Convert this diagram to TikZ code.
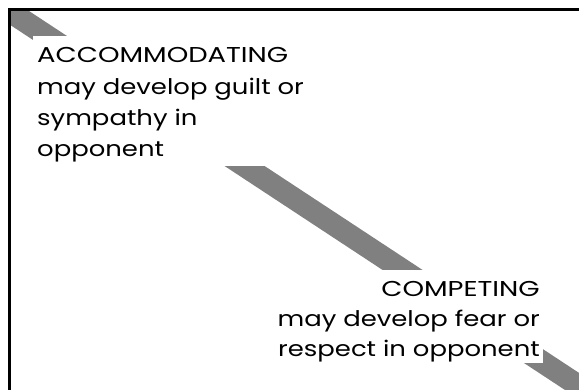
\documentclass[tikz,border=0pt]{standalone}
\usepackage{fontspec}
\setmainfont[FakeStretch=1.205]{Poppins}
\newfontfamily\capsfont[FakeStretch=1.275]{Poppins}
\begin{document}
\begin{tikzpicture}[x=1pt,y=-1pt,
  band/.style={fill=black!50},
  frameline/.style={draw=black,line width=3pt},
  whitebox/.style={fill=white},
  txt/.style={inner sep=0pt,font=\fontsize{21.5}{30}\selectfont},
  captxt/.style={inner sep=0pt,font=\capsfont\fontsize{21.5}{30}\selectfont}]
\useasboundingbox (0,0) rectangle (579,390);
\clip (0,0) rectangle (579,390);
% diagonal band, clipped to frame interior
\begin{scope}
  \clip (11,11) rectangle (600,400);
  \fill[band] (-18.1,-20) -- (650.6,420) -- (610.6,420) -- (-58.1,-20) -- cycle;
\end{scope}
% white text boxes
\fill[whitebox] (33,36) rectangle (312,166);
\fill[whitebox] (272,270) rectangle (543,363);
% frame
\draw[frameline] (9.5,9.5) rectangle (620,420);
% text
\node[captxt,anchor=base west] (a1) at (37,63) {ACCOMMODATING};
\node[txt,anchor=base west] (a2) at (37,95) {may develop guilt or};
\node[txt,anchor=base west] (a3) at (37,126) {sympathy in};
\node[txt,anchor=base west] (a4) at (37,157) {opponent};
\node[captxt,anchor=base east] (c1) at (540,297) {COMPETING};
\node[txt,anchor=base east] (c2) at (540,327) {may develop fear or};
\node[txt,anchor=base east] (c3) at (540,357) {respect in opponent};
\end{tikzpicture}
\end{document}
